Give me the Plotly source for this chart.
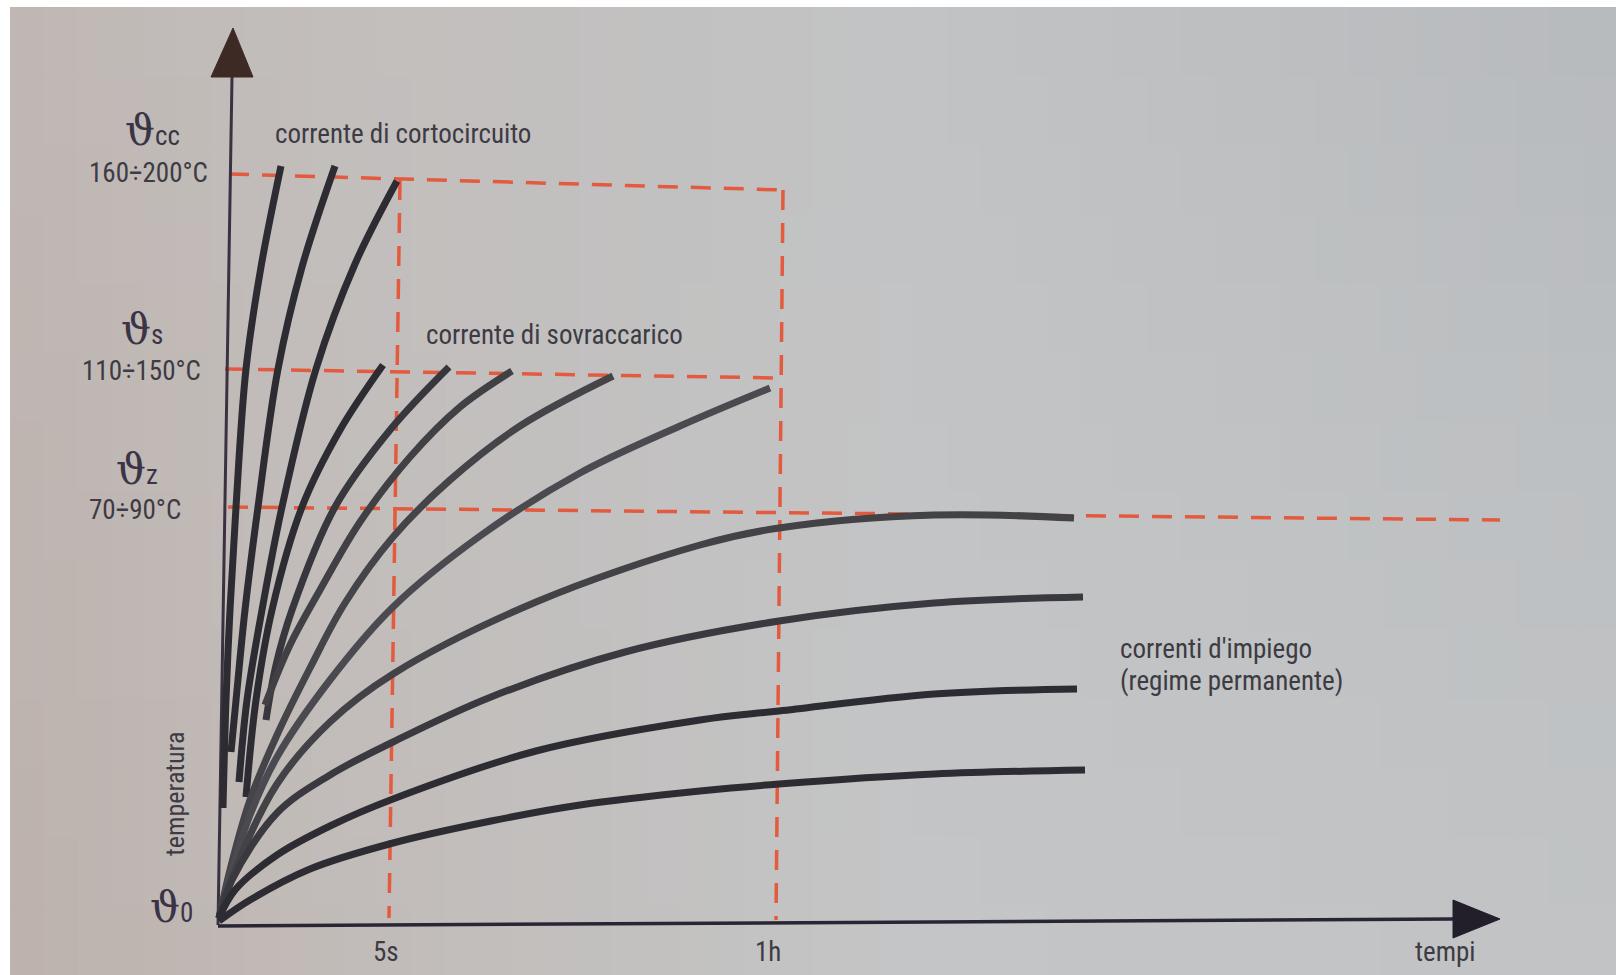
import numpy as np
import plotly.graph_objects as go

# ---------------- data (arbitrary units: t = time, th = temperature) ----------------
# short-circuit heating curves (corrente di cortocircuito)
S1_t = [6, 9, 13, 19, 29, 44, 64]
S1_th = [117, 225, 315, 418, 556, 658, 759]
S2_t = [14, 20, 28, 41, 61, 85, 118]
S2_th = [173, 235, 315, 418, 556, 658, 759]
S3_t = [22, 30, 45, 65, 99, 138, 180]
S3_th = [143, 225, 315, 418, 556, 661, 744]

# overload heating curves (corrente di sovraccarico)
O1_t = [29, 39, 55, 85, 123, 166]
O1_th = [128, 225, 315, 418, 495, 560]
O2_t = [49, 59, 75, 118, 173, 232]
O2_th = [205, 260, 315, 418, 495, 558]
O3_t = [48, 73, 103, 143, 193, 243, 295]
O3_th = [220, 280, 335, 403, 468, 518, 554]
O4_t = [2, 13, 33, 60, 93, 128, 176, 233, 303, 396]
O4_th = [7, 55, 125, 190, 257, 322, 388, 445, 499, 549]
O5_t = [2, 15, 33, 60, 113, 176, 263, 363, 463, 553]
O5_th = [7, 55, 110, 168, 245, 318, 389, 452, 499, 537]

# steady-state curves (correnti d'impiego)
T1_t = [2, 18, 60, 113, 176, 319, 483, 562, 717, 857]
T1_th = [7, 55, 141, 203, 251, 323, 380, 397, 410, 407]
T2_t = [2, 15, 60, 113, 176, 274, 408, 562, 717, 866]
T2_th = [7, 45, 112, 150, 183, 228, 273, 304, 322, 328]
T3_t = [2, 18, 60, 113, 176, 319, 483, 562, 717, 860]
T3_th = [7, 35, 70, 99, 126, 174, 205, 214, 231, 236]
T4_t = [2, 33, 93, 176, 274, 363, 483, 562, 717, 868]
T4_th = [4, 25, 56, 82, 104, 120, 134, 141, 151, 155]

# reference (dashed) lines
cc_line_t, cc_line_th = [12, 566], [751, 735]          # theta_cc level
s_line_t, s_line_th = [8, 563], [556, 547]             # theta_s level
z_line_t, z_line_th = [11, 1283], [418, 405]           # theta_z level
t5s_line_t, t5s_line_th = [183, 172], [745, 7]         # 5 s
t1h_line_t, t1h_line_th = [566, 559], [735, 5]         # 1 h

# axes and arrowheads
yaxis_t, yaxis_th = [1, 15], [0, 848]
xaxis_t, xaxis_th = [1, 1236], [-1, 6]
yarrow_t, yarrow_th = [-6, 16, 36, -6], [848, 897, 848, 848]
xarrow_t, xarrow_th = [1236, 1283, 1236, 1236], [25, 6, -13, 25]

# tick/level labels
level_text = ["160÷200°C", "110÷150°C", "70÷90°C"]
level_pos = [(-7, 752), (-14, 554), (-34, 415)]
theta_sub = ["cc", "s", "z", "0"]
theta_pos = [(-94, 795), (-98, 596), (-103, 456), (-69, 18)]
time_text = ["5s", "1h", "tempi"]
time_pos = [(169, -27), (551, -27), (1228, -27)]
group_text = ["corrente di cortocircuito", "corrente di sovraccarico",
              "correnti d'impiego", "(regime permanente)"]
group_pos = [(56, 791), (207, 590), (901, 276), (901, 244)]

# ---------------- figure ----------------
W, H = 1616, 975
X0, X1 = -217, 1399
Y0, Y1 = -50, 925

FONT = "Roboto Condensed, DejaVu Sans Condensed, sans-serif"
TXT = "#3d3b43"
RED = "#e35a3e"
INK = "#2e2c33"

fig = go.Figure()

# photographed paper background (soft 2-D colour drift)
gx = [0.0, 0.2, 0.55, 1.0]
gy = [0.0, 0.5, 1.0]            # 0 = top, 1 = bottom
grid = [
    [(191, 183, 180), (194, 190, 188), (194, 195, 196), (183, 186, 189)],
    [(190, 180, 176), (194, 189, 187), (195, 196, 197), (189, 192, 194)],
    [(188, 177, 172), (193, 187, 184), (196, 197, 198), (193, 195, 197)],
]
grid = np.array(grid, dtype=float)

def col_at(u, v):
    rows = np.array([[np.interp(u, gx, grid[r, :, k]) for k in range(3)] for r in range(3)])
    return [int(round(np.interp(v, gy, rows[:, k]))) for k in range(3)]

shapes = []
NX, NY = 48, 14
left, top = 10 / W, 1 - 7 / H
for i in range(NX):
    a = left + (1 - left) * i / NX
    b = min(left + (1 - left) * (i + 1) / NX + 0.0008, 1)
    for j in range(NY):
        y_top = top - top * j / NY
        y_bot = max(top - top * (j + 1) / NY - 0.0012, 0)
        c = col_at((a + b) / 2, (j + 0.5) / NY)
        shapes.append(dict(type="rect", xref="paper", yref="paper", x0=a, x1=b, y0=y_bot, y1=y_top,
                           fillcolor=f"rgb({c[0]},{c[1]},{c[2]})", line=dict(width=0), layer="below"))

# dashed reference lines
for tt, th in [(cc_line_t, cc_line_th), (s_line_t, s_line_th), (z_line_t, z_line_th),
               (t5s_line_t, t5s_line_th), (t1h_line_t, t1h_line_th)]:
    fig.add_trace(go.Scatter(x=tt, y=th, mode="lines", hoverinfo="skip",
                             line=dict(color=RED, width=3.5, dash="20px,13px")))

# axes
fig.add_trace(go.Scatter(x=yaxis_t, y=yaxis_th, mode="lines", line=dict(color="#3a3240", width=3),
                         hoverinfo="skip"))
fig.add_trace(go.Scatter(x=xaxis_t, y=xaxis_th, mode="lines", line=dict(color="#2a2534", width=3.5),
                         hoverinfo="skip"))
fig.add_trace(go.Scatter(x=yarrow_t, y=yarrow_th, mode="lines", fill="toself", fillcolor="#3e2a24",
                         line=dict(color="#3e2a24", width=1), hoverinfo="skip"))
fig.add_trace(go.Scatter(x=xarrow_t, y=xarrow_th, mode="lines", fill="toself", fillcolor="#221e2a",
                         line=dict(color="#221e2a", width=1), hoverinfo="skip"))

# heating curves
curves = [
    (S1_t, S1_th, INK), (S2_t, S2_th, INK), (S3_t, S3_th, INK),
    (O1_t, O1_th, INK), (O2_t, O2_th, "#38373d"), (O3_t, O3_th, "#404045"),
    (O4_t, O4_th, "#444449"), (O5_t, O5_th, "#4a4a50"),
    (T1_t, T1_th, "#424247"), (T2_t, T2_th, "#3a393f"), (T3_t, T3_th, INK), (T4_t, T4_th, INK),
]
for tt, th, col in curves:
    fig.add_trace(go.Scatter(x=tt, y=th, mode="lines", hoverinfo="skip",
                             line=dict(color=col, width=7, shape="spline", smoothing=1.0)))

ann = []
def add_text(text, x, y, size, xanchor="left", family=FONT, color=TXT, angle=0):
    ann.append(dict(text=text, x=x, y=y, xref="x", yref="y", showarrow=False,
                    xanchor=xanchor, yanchor="middle", textangle=angle,
                    font=dict(family=family, size=size, color=color)))

for txt, (x, y) in zip(level_text, level_pos):
    add_text(txt, x, y, 27, xanchor="right")
for sub, (x, y) in zip(theta_sub, theta_pos):
    label = ('<span style="font-family:DejaVu Serif;font-size:42px">ϑ</span>'
             f'<span style="font-size:27px">{sub}</span>')
    add_text(label, x, y, 27, xanchor="left", color="#3a3446")
for txt, (x, y) in zip(time_text, time_pos):
    add_text(txt, x, y, 27, xanchor="center")
for txt, (x, y) in zip(group_text, group_pos):
    add_text(txt, x, y, 27, xanchor="left")
add_text("temperatura", -42, 131, 26, xanchor="center", angle=-90)

fig.update_layout(
    width=W, height=H, margin=dict(l=0, r=0, t=0, b=0),
    paper_bgcolor="white", plot_bgcolor="rgba(0,0,0,0)",
    showlegend=False, shapes=shapes, annotations=ann,
    xaxis=dict(range=[X0, X1], visible=False, fixedrange=True),
    yaxis=dict(range=[Y0, Y1], visible=False, fixedrange=True),
)

fig.write_html("out.html")
